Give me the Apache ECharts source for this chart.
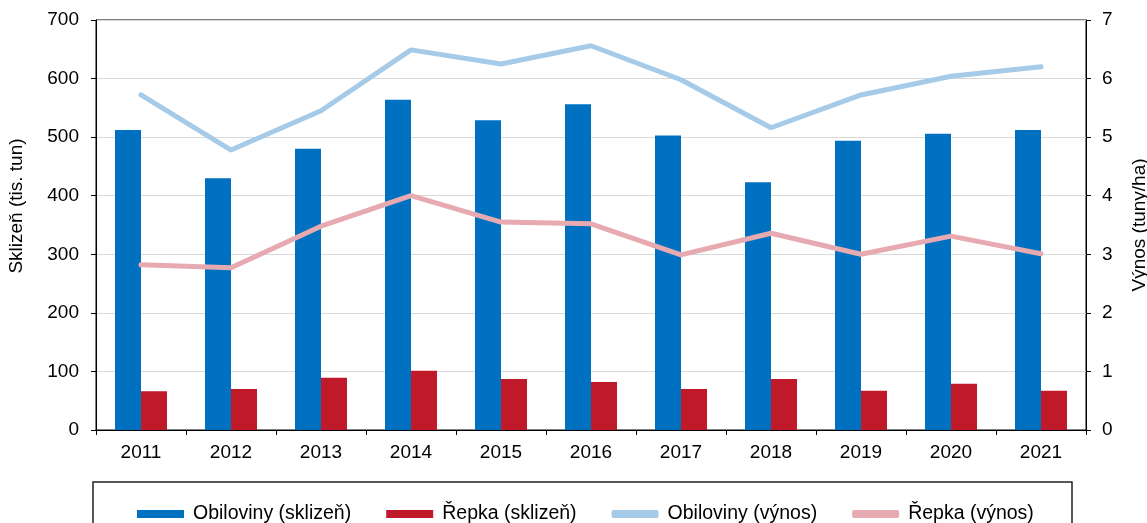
<!DOCTYPE html>
<html>
<head>
<meta charset="utf-8">
<script src="https://cdn.jsdelivr.net/npm/echarts@6/dist/echarts.min.js"></script>
<style>
  html, body { margin: 0; padding: 0; background: #fff; }
  #chart { width: 1147px; height: 523px; }
</style>
</head>
<body>
<div id="chart"></div>
<script>
const years = ["2011", "2012", "2013", "2014", "2015", "2016", "2017", "2018", "2019", "2020", "2021"];
const obiloviny_sklizen = [512, 430, 480, 564, 529, 556, 503, 423, 494, 506, 512];
const repka_sklizen = [66, 70, 89, 101, 87, 82, 70, 87, 67, 79, 67];
const obiloviny_vynos = [5.72, 4.78, 5.45, 6.49, 6.25, 6.56, 5.98, 5.16, 5.72, 6.04, 6.2];
const repka_vynos = [2.82, 2.77, 3.48, 4.0, 3.55, 3.52, 2.99, 3.36, 3.0, 3.31, 3.01];

const chart = echarts.init(document.getElementById("chart"));
const font = "Liberation Sans, Arial, sans-serif";

let option = {
  animation: false,
  textStyle: { fontFamily: font },
  grid: {
    left: 96, right: 61, top: 20, bottom: 93,
    outerBoundsMode: "none",
    show: true, borderColor: "#000", borderWidth: 1
  },
  // rámeček kolem legendy
  graphic: [{
    type: "rect",
    shape: { x: 93, y: 482, width: 979, height: 50 },
    style: { fill: "none", stroke: "#222", lineWidth: 1.5 }
  }],
  legend: {
    top: 499,
    left: 132,
    itemWidth: 47,
    itemHeight: 8,
    itemGap: 35,
    textStyle: { fontSize: 19.5, color: "#000", fontFamily: font, padding: [0, 0, 0, 4] },
    data: [
      { name: "Obiloviny (sklizeň)", icon: "rect" },
      { name: "Řepka (sklizeň)", icon: "rect" },
      { name: "Obiloviny (výnos)", icon: "roundRect", itemStyle: { borderWidth: 0 } },
      { name: "Řepka (výnos)", icon: "roundRect" }
    ]
  },
  xAxis: {
    type: "category",
    data: years,
    axisLine: { lineStyle: { color: "#000" } },
    axisTick: { show: true, length: 5, lineStyle: { color: "#000" } },
    axisLabel: { fontSize: 19, color: "#000", margin: 13 }
  },
  yAxis: [
    {
      type: "value",
      min: 0, max: 700, interval: 100,
      name: "Sklizeň (tis. tun)",
      nameLocation: "middle",
      nameGap: 70,
      nameTextStyle: { fontSize: 19, color: "#000", padding: [0, 0, 0, 38] },
      axisLine: { show: true, lineStyle: { color: "#000" } },
      axisTick: { show: true, length: 5, lineStyle: { color: "#000" } },
      axisLabel: { fontSize: 19, color: "#000", margin: 17 },
      splitLine: { lineStyle: { color: "#d9d9d9" } }
    },
    {
      type: "value",
      min: 0, max: 7, interval: 1,
      name: "Výnos (tuny/ha)",
      nameLocation: "middle",
      nameGap: 44,
      nameTextStyle: { fontSize: 19, color: "#000" },
      axisLine: { show: true, lineStyle: { color: "#000" } },
      axisTick: { show: true, length: 5, lineStyle: { color: "#000" } },
      axisLabel: { fontSize: 19, color: "#000", margin: 16 },
      splitLine: { show: false }
    }
  ],
  series: [
    {
      name: "Obiloviny (sklizeň)",
      type: "bar",
      barWidth: 26,
      barGap: "0%",
      itemStyle: { color: "#0070c0" },
      data: obiloviny_sklizen
    },
    {
      name: "Řepka (sklizeň)",
      type: "bar",
      barWidth: 26,
      barGap: "0%",
      itemStyle: { color: "#c0192a" },
      data: repka_sklizen
    },
    {
      name: "Obiloviny (výnos)",
      type: "line",
      yAxisIndex: 1,
      symbol: "none",
      lineStyle: { color: "#a6cbe8", width: 5, cap: "round" },
      itemStyle: { color: "#a6cbe8" },
      data: obiloviny_vynos
    },
    {
      name: "Řepka (výnos)",
      type: "line",
      yAxisIndex: 1,
      symbol: "none",
      lineStyle: { color: "#e6aab0", width: 5, cap: "round" },
      itemStyle: { color: "#e6aab0" },
      data: repka_vynos
    }
  ]
};

chart.setOption(option);
</script>
</body>
</html>
